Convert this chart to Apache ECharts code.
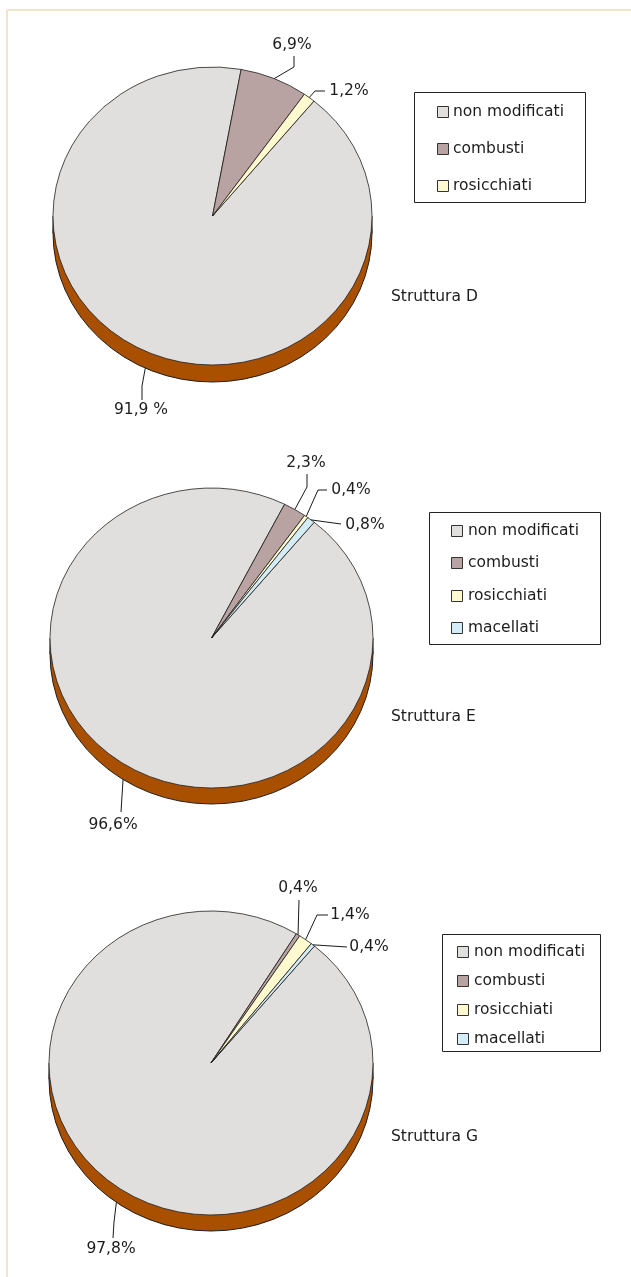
<!DOCTYPE html>
<html>
<head>
<meta charset="utf-8">
<script src="https://cdn.jsdelivr.net/npm/echarts@6/dist/echarts.min.js"></script>
<style>
  html, body { margin: 0; padding: 0; background: #ffffff; }
  #main { width: 631px; height: 1277px; }
</style>
</head>
<body>
<div id="main"></div>
<script>
// Categories of bone remains and their colours
const categories = ['non modificati', 'combusti', 'rosicchiati', 'macellati'];
const colors = ['#E0DFDE', '#B8A2A2', '#FFF9CF', '#D3ECF6'];

// Percentages per structure
const strutturaD = [91.9, 6.9, 1.2];
const strutturaE = [96.6, 2.3, 0.4, 0.8];
const strutturaG = [97.8, 0.4, 1.4, 0.4];
const titles = ['Struttura D', 'Struttura E', 'Struttura G'];
// text between the number and the % sign
const unitSepD = [' ', '', ''];
const unitSepE = ['', '', '', ''];
const unitSepG = ['', '', '', ''];

const FONT = 'DejaVu Sans';
const FS = 15.5;
const TEXT = '#1c1c1c';
const RIM = '#A84F00';
const EDGE = '#1a1a1a';

// Geometry of each pie (ellipse top face + side wall), label anchors and legend boxes
const layouts = [
  { cx: 212.5, cy: 216, rx: 159.5, ry: 149, depth: 17, start: 39.5,
    labels: [[141, 410], [292, 45], [349, 91]],
    leaders: [[[142, 386], [142, 400]], [[294, 67], [294, 56]], [[315, 91], [325, 91]]],
    legend: { x: 414.5, y: 92.5, w: 171, h: 110, rows: [112, 149, 186], sq: 437, tx: 453 },
    title: [391, 297] },
  { cx: 211.5, cy: 638, rx: 161.5, ry: 150, depth: 16, start: 39.5,
    labels: [[113, 825], [306, 463], [351, 490], [365, 525]],
    leaders: [[[122, 796], [121, 812]], [[307, 487], [307, 474]], [[318, 490], [327, 490]], [[341, 524]]],
    legend: { x: 429.5, y: 512.5, w: 171, h: 132, rows: [531, 563, 596, 628], sq: 451, tx: 468 },
    title: [391, 717] },
  { cx: 211, cy: 1063, rx: 162, ry: 152, depth: 16, start: 39.7,
    labels: [[111, 1249], [298, 888], [350, 915], [369, 947]],
    leaders: [[[114, 1222], [113, 1238]], [[299, 900]], [[317, 915], [328, 915]], [[347, 947]]],
    legend: { x: 442.5, y: 934.5, w: 158, h: 117, rows: [952, 981, 1010, 1039], sq: 457, tx: 474 },
    title: [391, 1137] }
];

function fmt(v, sep) {
  return v.toFixed(1).replace('.', ',') + sep + '%';
}

function makeSeries(values, seps, L, name) {
  const total = values.reduce((a, b) => a + b, 0);
  const cum = [];
  let acc = 0;
  values.forEach(v => { cum.push(acc); acc += v; });
  const k = L.ry / L.rx;
  const toRad = d => (d - 90) * Math.PI / 180;

  return {
    type: 'custom',
    name: name,
    coordinateSystem: 'none',
    silent: true,
    animation: false,
    data: values.map((v, i) => ({ name: categories[i], value: v })),
    renderItem(params, api) {
      const i = params.dataIndex;
      const v = api.value(0);
      const a0 = L.start + cum[i] / total * 360;   // degrees clockwise from 12 o'clock
      const a1 = a0 + v / total * 360;
      const children = [];

      if (i === 0) {
        // side wall of the disc
        children.push({
          type: 'group', x: L.cx, y: L.cy + L.depth, scaleY: k,
          children: [{ type: 'circle', shape: { cx: 0, cy: 0, r: L.rx },
            style: { fill: RIM, stroke: EDGE, lineWidth: 1, strokeNoScale: true }, z2: 0 }]
        });
        children.push({ type: 'rect', shape: { x: L.cx - L.rx, y: L.cy, width: 2 * L.rx, height: L.depth },
          style: { fill: RIM }, z2: 0 });
        children.push({ type: 'line', shape: { x1: L.cx - L.rx, y1: L.cy, x2: L.cx - L.rx, y2: L.cy + L.depth },
          style: { stroke: EDGE, lineWidth: 1 }, z2: 0 });
        children.push({ type: 'line', shape: { x1: L.cx + L.rx, y1: L.cy, x2: L.cx + L.rx, y2: L.cy + L.depth },
          style: { stroke: EDGE, lineWidth: 1 }, z2: 0 });
      }

      // top face slice
      children.push({
        type: 'group', x: L.cx, y: L.cy, scaleY: k,
        children: [{ type: 'sector',
          shape: { cx: 0, cy: 0, r0: 0, r: L.rx, startAngle: toRad(a0), endAngle: toRad(a1), clockwise: true },
          style: { fill: colors[i], stroke: EDGE, lineWidth: 0.8, strokeNoScale: true }, z2: 1 }]
      });

      // leader line from the slice edge to its label
      const mid = (a0 + a1) / 2 * Math.PI / 180;
      const ex = L.cx + L.rx * Math.sin(mid);
      let ey = L.cy - L.ry * Math.cos(mid);
      if (Math.cos(mid) < 0) ey += L.depth;
      children.push({ type: 'polyline', shape: { points: [[ex, ey]].concat(L.leaders[i]) },
        style: { stroke: EDGE, lineWidth: 1, fill: null }, z2: 2 });

      children.push({ type: 'text', x: L.labels[i][0], y: L.labels[i][1],
        style: { text: fmt(v, seps[i]), fontFamily: FONT, fontSize: FS, fill: TEXT,
          align: 'center', verticalAlign: 'middle' }, z2: 3 });

      return { type: 'group', children: children };
    }
  };
}

function legendGraphics(count, G) {
  const els = [{ type: 'rect', shape: { x: G.x, y: G.y, width: G.w, height: G.h },
    style: { fill: '#ffffff', stroke: '#222222', lineWidth: 1 } }];
  for (let i = 0; i < count; i++) {
    els.push({ type: 'rect', shape: { x: G.sq + 0.5, y: G.rows[i] - 5.5, width: 11, height: 11 },
      style: { fill: colors[i], stroke: '#333333', lineWidth: 1 } });
    els.push({ type: 'text', x: G.tx, y: G.rows[i],
      style: { text: categories[i], fontFamily: FONT, fontSize: FS, fill: TEXT, verticalAlign: 'middle' } });
  }
  return els;
}

const dataSets = [strutturaD, strutturaE, strutturaG];
const sepSets = [unitSepD, unitSepE, unitSepG];

const graphics = [
  { type: 'line', shape: { x1: 7, y1: 10, x2: 631, y2: 10 }, style: { stroke: '#EFE5CB', lineWidth: 2 } },
  { type: 'line', shape: { x1: 7, y1: 10, x2: 7, y2: 1277 }, style: { stroke: '#EFE5CB', lineWidth: 2 } }
];
layouts.forEach((L, p) => {
  legendGraphics(dataSets[p].length, L.legend).forEach(e => graphics.push(e));
  graphics.push({ type: 'text', x: L.title[0], y: L.title[1],
    style: { text: titles[p], fontFamily: FONT, fontSize: FS, fill: TEXT, verticalAlign: 'middle' } });
});

const chart = echarts.init(document.getElementById('main'), null, { renderer: 'canvas' });
chart.setOption({
  backgroundColor: '#ffffff',
  animation: false,
  graphic: graphics,
  series: layouts.map((L, p) => makeSeries(dataSets[p], sepSets[p], L, titles[p]))
});
</script>
</body>
</html>
